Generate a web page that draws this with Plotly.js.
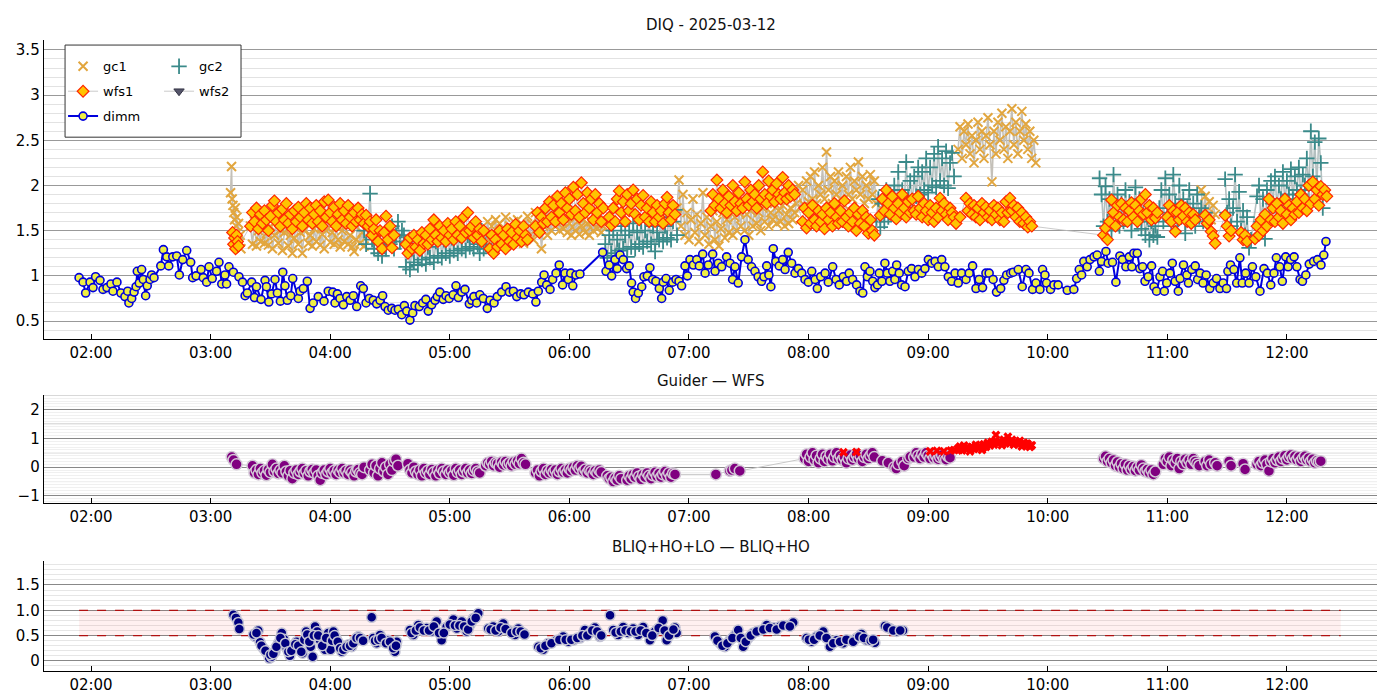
<!DOCTYPE html>
<html><head><meta charset="utf-8">
<script src="https://cdn.plot.ly/plotly-3.0.1.min.js"></script>
<style>html,body{margin:0;padding:0;background:#fff}#chart{width:1400px;height:700px}</style>
</head><body><div id="chart"></div>
<script>
const DAY = '2025-03-12';
const bottomTickVals = [0, 0.5, 1, 1.5];
const bottomTickText = ['0', '0.5', '1.0', '1.5'];
const bandLimits = [0.5, 1.0];
const bandSpanMin = [114, 747];

// DIMM (minutes after 00:00 UT, arcsec)
const dimmMin = [114,116,117.3,119.5,121,122.3,124.5,126,128,130,131,133,135,137,138.4,139,140.4,141.6,142.6,143.2,144.2,145.4,146.2,147.4,148.2,149.6,150.4,151.6,155,156.3,158,159,161,163,164.3,166,168,170,171,172.7,175.2,176.3,178,179.2,180.8,183,184.2,185.6,187.2,188,189.2,191.4,194.2,196,197.3,198.4,200.6,202,203,205.3,207.3,208,209.2,210.6,212.3,213.5,215,216.2,217.3,218.5,220.2,221.2,224,224.9,226.5,228.5,229.9,231.5,234,236.9,239,241.3,242.4,243.6,244.9,246.6,248.3,250,251.6,253.3,255.3,256.6,258,259.6,261.6,263.3,265,266.3,267.5,269.1,270.9,272.5,274.2,275.9,277.2,278.4,280,281.4,282.5,284.7,286.4,288,289.2,290.9,292.6,293.7,295,296.7,298.1,299.7,301.7,303.1,304.3,306,307.6,309.8,311,312.1,313.5,315.1,316.8,318.8,320.2,322.2,323.8,326,328.2,329.9,331.9,333.6,335.6,337.2,339.4,341.6,343.2,344.4,346.1,347.3,348.6,350.3,351.6,353.3,354.9,356.6,357.8,359.5,360.7,361.7,363.3,365.3,376.7,378.4,380,381.2,382.9,384,385.4,387,388.7,390,391.2,392,393.2,394.6,396.3,397.4,399.1,400.4,401.8,403.4,405.1,406.3,407.1,408.5,410.1,411.8,413.5,415,416.3,418,419.2,420.5,422.2,423.9,425.2,426.9,428.1,429.7,431.9,433.1,434.7,436.4,438.9,440.6,441.9,443.1,444.7,446.4,448.1,449.7,451.4,453.1,454.7,456.4,457.6,459,460.1,461.1,462.3,463.6,465.3,467,468.2,469.8,471.5,473.2,474.9,476.6,478.2,479.9,481.6,483.3,484.4,486.1,488.3,489.9,492.1,493.8,495.4,497.4,499.1,500.4,502.1,504.1,505.8,507.2,508.3,509.5,510.8,512.2,513.3,514.6,515.5,516.8,518.3,519.5,520.8,522.2,523.3,524.2,525.5,526.7,528.4,530,531.7,533.4,535.1,536.8,538.4,540.1,541.8,543.5,545.1,546.8,548.4,550.1,551.8,553.5,555.1,556.8,559,560.6,562.3,564,565.6,567.3,569,570.6,572.6,574.3,576.4,578,579.4,581.4,582.7,585.2,587.2,589.1,590.6,592.4,594.1,596.1,597.4,598.6,599.4,601.4,603.1,605.2,609.8,613.1,614.5,615.8,617,618.1,619.8,621.2,623.2,624.8,625.9,627,629.2,630.3,632.5,634.2,636.2,637.5,639.2,640.9,642.2,643.2,644.9,646.2,647.6,648.8,650.4,652.1,653.3,654.6,656.3,657.6,658.5,659.7,661.3,662.5,663.9,665.5,666.4,668.1,669.8,670.6,672.3,674,675.2,676.5,677.9,679.5,681.3,683,684.7,686.4,688,689.7,690.4,691.7,693.4,694.8,696.4,697.6,699.3,701,702.7,704.4,706.5,708.5,710.2,711.9,713.5,714.7,716.4,717.7,719.4,720.6,721.9,723.6,725,726.6,727.8,729.5,731.2,733.4,735.4,737.1,738.5,739.6];
const dimmVal = [0.98,0.93,0.81,0.93,0.87,0.99,0.95,0.85,0.87,0.91,0.83,0.93,0.81,0.77,0.83,0.70,0.75,0.82,0.88,1.05,0.92,1.07,0.96,0.78,0.89,0.96,1.01,0.98,1.11,1.29,1.21,1.11,1.21,1.22,1.01,1.18,1.28,1.15,0.98,1.00,1.07,0.98,0.93,1.10,0.97,1.05,1.15,0.91,1.01,0.91,1.10,1.04,0.99,0.93,0.78,0.81,0.93,0.76,0.88,0.74,0.95,0.88,0.71,0.80,0.96,0.81,0.72,1.04,0.89,0.73,0.78,0.97,0.75,0.83,0.86,0.94,0.64,0.70,0.77,0.72,0.83,0.82,0.70,0.80,0.75,0.68,0.77,0.73,0.78,0.66,0.89,0.86,0.70,0.75,0.73,0.69,0.73,0.78,0.66,0.62,0.64,0.62,0.63,0.57,0.67,0.61,0.51,0.59,0.67,0.66,0.70,0.74,0.61,0.68,0.73,0.77,0.82,0.74,0.78,0.75,0.79,0.89,0.76,0.82,0.85,0.69,0.73,0.77,0.70,0.79,0.75,0.64,0.73,0.70,0.77,0.82,0.88,0.82,0.83,0.77,0.80,0.79,0.82,0.80,0.71,0.83,0.93,1.01,0.90,0.85,0.96,1.03,1.12,0.90,1.03,0.96,1.03,0.89,1.01,1.02,1.26,1.05,1.12,1.00,1.18,1.08,1.23,1.18,1.08,1.11,0.92,0.82,0.75,0.81,0.88,0.99,1.00,1.09,0.96,0.94,0.86,0.75,0.93,0.97,0.84,0.93,0.96,0.94,0.89,1.11,1.00,1.18,1.12,1.18,1.11,1.24,1.03,1.12,1.24,1.05,1.14,1.10,1.21,1.14,0.96,1.10,0.92,1.21,1.40,1.18,1.10,1.05,0.99,0.94,0.99,1.11,1.01,0.88,1.30,1.16,1.11,1.18,1.07,1.26,1.14,1.03,1.08,1.03,0.96,0.93,1.05,0.96,0.86,0.99,1.03,0.93,1.10,0.96,0.90,0.99,0.94,1.03,0.96,0.90,0.83,0.81,1.10,0.99,1.05,0.94,0.87,0.90,1.03,0.94,1.14,1.03,0.94,1.05,0.96,1.12,1.03,0.90,0.88,1.05,1.08,0.99,1.07,1.03,1.08,1.18,1.14,1.16,1.10,1.18,1.10,0.99,0.94,1.03,0.92,1.03,0.96,1.03,1.11,0.86,0.96,0.87,1.03,1.03,0.96,0.82,0.86,0.95,1.01,1.03,1.04,1.07,0.88,1.07,1.03,0.85,0.92,0.85,1.07,1.01,0.92,0.85,0.90,0.90,0.84,0.85,0.97,1.07,1.01,1.16,1.10,1.18,1.21,1.23,1.05,1.16,1.27,1.14,1.15,0.93,1.22,1.18,1.10,1.21,1.10,1.25,1.25,1.08,1.10,0.94,0.99,1.11,0.88,0.83,0.99,1.05,0.83,0.92,1.03,1.14,0.94,0.83,0.97,1.12,1.01,0.92,1.07,1.11,0.96,1.03,0.92,1.01,0.86,0.92,0.97,0.86,0.92,0.86,1.05,1.12,1.07,0.92,1.20,0.92,1.03,0.92,1.10,0.99,0.83,1.08,1.03,0.90,1.03,1.20,1.10,0.94,1.21,1.10,1.18,1.21,1.10,0.96,0.94,1.01,1.13,1.16,1.18,1.12,1.23,1.38];

// Guider 1
const gc1Min = [190,190.5,190.8,191.2,191.6,192,192.4,192.8,193.2,193.6,194,194.4,194.8,195.2,
200,201,202,203,204,205,206,207,208,209,210,211,212,213,214,215,216,217,218,219,220,221,222,223,224,225,226,227,228,229,230,231,232,233,234,235,236,237,238,239,240,241,242,243,244,245,246,247,248,249,250,251,252,253,254,255,256,257,
318,319,320,321,322,323,324,325,326,327,328,329,330,331,332,333,334,335,336,337,338,339,340,341,342,343,344,345,346,347,348,349,350,351,352,353,354,355,356,357,358,359,360,361,362,363,364,365,366,367,368,369,370,371,372,373,374,375,376,377,
414,415,416,417,418,419,420,421,422,423,424,425,426,427,428,429,430,431,432,433,434,435,436,437,438,439,440,441,442,443,444,445,446,447,448,449,450,451,452,453,454,455,456,457,458,459,460,461,462,463,464,465,466,467,468,469,470,471,472,473,474,475,476,477,478,479,480,481,482,483,484,485,486,487,488,489,490,491,492,493,494,495,496,497,498,499,500,501,502,503,504,505,506,507,508,509,510,511,512,513,514,
555,556,557,558,559,560,561,562,563,564,565,566,567,568,569,570,571,572,573,574,575,576,577,578,579,580,581,582,583,584,585,586,587,588,589,590,591,592,593,594,
677,678,679,680,681,682,683,684];
const gc1Val = [1.92,2.21,1.85,1.78,1.7,1.62,1.75,1.55,1.65,1.48,1.58,1.38,1.45,1.3,
1.55,1.35,1.6,1.33,1.5,1.38,1.58,1.36,1.47,1.34,1.55,1.3,1.45,1.6,1.36,1.5,1.28,1.48,1.55,1.33,1.45,1.25,1.42,1.57,1.35,1.48,1.25,1.5,1.6,1.36,1.45,1.33,1.52,1.38,1.58,1.34,1.46,1.3,1.5,1.62,1.37,1.48,1.35,1.55,1.4,1.32,1.5,1.38,1.57,1.35,1.45,1.32,1.27,1.4,1.6,1.36,1.48,1.33,
1.45,1.6,1.38,1.55,1.42,1.62,1.4,1.58,1.35,1.5,1.65,1.42,1.55,1.38,1.6,1.45,1.62,1.4,1.56,1.36,1.52,1.66,1.45,1.58,1.4,1.7,1.48,1.62,1.3,1.55,1.68,1.45,1.6,1.5,1.72,1.55,1.65,1.5,1.6,1.52,1.62,1.48,1.58,1.45,1.65,1.5,1.6,1.46,1.55,1.62,1.48,1.58,1.45,1.6,1.5,1.65,1.52,1.58,1.48,1.55,
1.75,2.06,1.55,1.9,1.45,1.7,1.4,1.62,1.85,1.48,1.68,1.38,1.58,1.92,1.45,1.65,1.35,1.55,1.72,1.4,1.6,1.33,1.52,1.7,1.42,1.62,1.48,1.75,1.45,1.65,1.5,1.7,1.55,1.78,1.5,1.68,1.45,1.72,1.55,1.8,1.58,1.7,1.5,1.75,1.6,1.82,1.55,1.7,1.62,1.8,1.58,1.72,1.6,1.78,1.55,1.68,1.58,1.75,1.62,1.7,1.8,2.0,1.75,1.95,1.78,2.05,1.82,2.1,1.85,2.15,1.8,2.0,1.9,2.2,1.85,2.37,1.95,2.1,1.8,2.05,1.9,2.15,1.85,2.0,1.78,2.1,1.9,2.2,1.85,2.05,1.95,2.26,1.9,2.1,1.8,2.0,1.85,2.12,1.9,2.05,1.8,
2.4,2.65,2.3,2.6,2.45,2.68,2.35,2.55,2.25,2.5,2.7,2.4,2.6,2.3,2.55,2.75,2.45,2.04,2.6,2.35,2.7,2.5,2.8,2.4,2.65,2.3,2.6,2.85,2.45,2.7,2.35,2.6,2.82,2.5,2.68,2.4,2.6,2.3,2.5,2.25,
1.95,1.7,1.88,1.65,1.82,1.62,1.78,1.68];

// Guider 2
const gc2Min = [257,258,259,260,261,262,263,264,265,266,267,268,269,270,271,272,273,274,275,276,277,278,279,280,281,282,283,284,285,286,287,288,289,290,291,292,293,294,295,296,297,298,299,300,301,302,303,304,305,306,307,308,309,310,311,312,313,314,315,316,317,318,
378,379,380,381,382,383,384,385,386,387,388,389,390,391,392,393,394,395,396,397,398,399,400,401,402,403,404,405,406,407,408,409,410,411,412,413,414,
514,515,516,517,518,519,520,521,522,523,524,525,526,527,528,529,530,531,532,533,534,535,536,537,538,539,540,541,542,543,544,545,546,547,548,549,550,551,552,553,
626,627,628,629,630,631,632,633,634,635,636,637,638,639,640,641,642,643,644,645,646,647,648,649,650,651,652,653,654,655,656,657,658,659,660,661,662,663,664,665,666,667,668,669,670,671,672,673,674,675,676,677,678,679,
689,690,691,692,693,694,695,696,697,698,699,700,701,702,
705,706,707,708,709,710,711,712,713,714,715,716,717,718,719,720,721,722,723,724,725,726,727,728,729,730,731,732,733,734,735,736,737,738];
const gc2Val = [1.5,1.35,1.55,1.91,1.4,1.3,1.5,1.25,1.45,1.22,1.4,1.3,1.48,1.35,1.55,1.3,1.45,1.6,1.38,1.5,1.45,1.1,1.38,1.07,1.3,1.15,1.4,1.12,1.35,1.18,1.42,1.13,1.32,1.2,1.45,1.15,1.38,1.22,1.48,1.2,1.4,1.25,1.5,1.22,1.42,1.28,1.5,1.25,1.45,1.3,1.52,1.28,1.45,1.32,1.5,1.3,1.48,1.35,1.25,1.5,1.3,1.35,
1.35,1.2,1.45,1.25,1.5,1.22,1.4,1.28,1.55,1.3,1.45,1.21,1.5,1.32,1.58,1.3,1.48,1.35,1.6,1.32,1.5,1.38,1.62,1.35,1.55,1.27,1.48,1.4,1.65,1.38,1.55,1.42,1.68,1.4,1.6,1.73,1.45,
1.6,1.85,1.54,1.8,1.6,1.95,1.65,1.9,1.7,2.0,1.72,2.15,1.75,1.95,1.8,2.26,1.85,2.05,1.82,2.1,1.88,2.2,1.9,2.15,1.95,2.3,1.92,2.2,2.0,2.35,1.98,2.43,2.05,2.3,2.0,2.38,1.97,2.25,2.36,2.1,
2.08,1.9,1.55,1.99,1.6,1.85,1.5,2.12,1.7,1.9,1.55,1.8,1.6,1.95,1.65,1.82,1.5,1.75,1.98,1.6,1.85,1.52,1.7,1.45,1.65,1.4,1.6,1.45,1.55,1.43,1.75,1.95,1.6,2.08,1.7,1.9,1.55,2.12,1.8,1.6,2.0,1.65,1.85,1.47,1.75,1.95,1.6,1.8,1.55,1.9,1.65,1.75,1.6,1.7,
2.07,1.7,1.85,1.55,1.75,2.12,1.6,1.93,1.5,1.72,1.45,1.65,1.31,1.4,
1.88,2.0,1.6,1.85,1.41,1.95,1.7,2.05,1.8,2.1,1.78,2.0,1.85,2.15,1.82,2.05,1.9,2.18,1.85,2.1,1.95,2.2,1.9,2.12,2.0,2.3,1.95,2.6,2.1,2.48,2.0,2.52,2.25,1.75];

// WFS 1
const wfs1Min = [191,191.5,192,192.5,193,193.5,194,
200,201,202,203,204,205,206,207,208,209,210,211,212,213,214,215,216,217,218,219,220,221,222,223,224,225,226,227,228,229,230,231,232,233,234,235,236,237,238,239,240,241,242,243,244,245,246,247,248,249,250,251,252,253,254,255,256,257,
258,259,260,261,262,263,264,265,266,267,268,269,270,271,272,
278,279,280,281,282,283,284,285,286,287,288,289,290,291,292,293,294,295,296,297,298,299,300,301,302,303,304,305,306,307,308,309,310,311,312,313,314,315,316,317,
320,321,322,323,324,325,326,327,328,329,330,331,332,333,334,335,336,337,338,339,
343,344,345,346,347,348,349,350,351,352,353,354,355,356,357,358,359,360,361,362,363,364,365,366,367,368,369,370,371,372,373,374,375,376,377,
380,381,382,383,384,385,386,387,388,389,390,391,392,393,394,395,396,397,398,399,400,401,402,403,404,405,406,407,408,409,410,411,412,413,
431,432,433,434,435,436,437,438,439,440,441,442,443,444,445,446,447,448,449,450,451,452,453,454,455,456,457,458,459,460,461,462,463,464,465,466,467,468,469,470,471,472,473,
477,478,479,480,481,482,483,484,485,486,487,488,489,490,491,492,493,494,495,496,497,498,499,500,501,502,503,504,505,506,507,508,509,510,511,512,513,
516,517,518,519,520,521,522,523,524,525,526,527,528,529,530,531,532,533,534,535,536,537,538,539,540,541,542,543,544,545,546,547,548,549,550,551,552,553,554,
556,
559,560,561,562,563,564,565,566,567,568,569,570,571,572,573,574,575,576,577,578,579,580,581,582,583,584,585,586,587,588,589,590,591,592,
628,629,630,631,632,633,634,635,636,637,638,639,640,641,642,643,644,645,646,647,648,649,650,651,652,653,654,655,
660,661,662,663,664,665,666,667,668,669,670,671,672,673,674,
679,680,681,682,683,684,
689,690,691,692,
697,698,699,700,
704,705,706,707,708,709,710,711,712,713,714,715,716,717,718,719,720,721,722,723,724,725,726,727,728,729,730,731,732,733,734,735,736,737,738,739,740];
const wfs1Val = [1.48,1.35,1.42,1.3,1.45,1.38,1.33,
1.55,1.7,1.6,1.75,1.52,1.68,1.58,1.72,1.62,1.5,1.66,1.78,1.83,1.6,1.7,1.55,1.74,1.62,1.8,1.58,1.68,1.52,1.72,1.6,1.76,1.65,1.55,1.7,1.8,1.62,1.75,1.58,1.68,1.78,1.6,1.72,1.55,1.82,1.65,1.84,1.7,1.6,1.76,1.55,1.68,1.8,1.62,1.72,1.58,1.78,1.65,1.55,1.7,1.6,1.75,1.62,1.68,1.58,
1.67,1.55,1.6,1.45,1.52,1.62,1.38,1.5,1.3,1.48,1.66,1.4,1.55,1.31,1.45,
1.35,1.25,1.42,1.3,1.45,1.32,1.4,1.28,1.48,1.36,1.45,1.35,1.52,1.4,1.62,1.45,1.38,1.55,1.42,1.5,1.38,1.58,1.45,1.52,1.4,1.6,1.45,1.55,1.42,1.65,1.48,1.7,1.5,1.55,1.42,1.6,1.45,1.52,1.38,1.5,
1.3,1.45,1.25,1.4,1.32,1.5,1.35,1.45,1.3,1.52,1.38,1.48,1.35,1.57,1.42,1.5,1.38,1.55,1.45,1.4,
1.55,1.7,1.48,1.65,1.58,1.75,1.6,1.82,1.65,1.78,1.6,1.88,1.7,1.8,1.62,1.92,1.75,1.85,1.68,1.98,1.72,1.9,1.65,2.03,1.8,1.7,1.92,1.75,1.85,1.62,1.9,1.7,1.8,1.6,1.75,
1.65,1.56,1.75,1.6,1.85,1.94,1.7,1.82,1.6,1.9,1.72,1.8,1.95,1.68,1.85,1.62,1.78,1.89,1.65,1.75,1.6,1.82,1.7,1.6,1.78,1.65,1.72,1.58,1.8,1.87,1.7,1.62,1.78,1.68,
1.72,1.9,1.78,2.06,1.85,1.75,1.95,1.8,1.7,1.88,1.78,2.0,1.82,1.72,1.92,1.8,1.75,2.04,1.85,1.78,1.95,1.82,1.9,1.75,2.0,1.85,2.15,1.9,1.8,2.05,1.88,1.95,1.82,2.02,1.9,1.85,2.09,1.92,1.85,2.0,1.88,1.95,1.9,
1.6,1.75,1.53,1.7,1.58,1.78,1.62,1.55,1.72,1.6,1.68,1.52,1.75,1.62,1.7,1.55,1.8,1.65,1.58,1.72,1.6,1.83,1.65,1.55,1.7,1.6,1.75,1.5,1.68,1.58,1.72,1.55,1.65,1.47,1.62,1.5,1.45,
1.67,1.85,1.72,1.95,1.8,1.68,1.88,1.75,1.63,1.8,1.7,1.9,1.75,1.65,1.82,1.7,1.85,1.72,1.68,1.88,1.75,1.65,1.8,1.72,1.62,1.78,1.7,1.6,1.75,1.65,1.86,1.72,1.8,1.68,1.62,1.75,1.7,1.65,1.58,
1.65,
1.86,1.72,1.8,1.68,1.78,1.65,1.75,1.62,1.8,1.7,1.76,1.65,1.72,1.62,1.78,1.68,1.75,1.62,1.7,1.6,1.82,1.7,1.86,1.72,1.78,1.65,1.75,1.6,1.7,1.58,1.65,1.54,1.6,1.55,
1.45,1.53,1.4,1.6,1.84,1.7,1.55,1.78,1.65,1.8,1.62,1.75,1.6,1.72,1.81,1.65,1.78,1.6,1.72,1.85,1.68,1.9,1.7,1.78,1.62,1.75,1.64,1.7,
1.65,1.78,1.6,1.72,1.49,1.7,1.62,1.78,1.66,1.75,1.6,1.7,1.58,1.68,1.62,
1.67,1.58,1.62,1.49,1.44,1.36,
1.67,1.55,1.44,1.5,
1.48,1.4,1.45,1.38,
1.41,1.55,1.45,1.62,1.5,1.68,1.55,1.85,1.62,1.75,1.6,1.8,1.65,1.72,1.58,1.85,1.68,1.78,1.62,1.75,1.68,1.82,1.7,1.9,1.75,1.85,1.72,2.0,1.8,2.04,1.85,1.95,1.78,1.99,1.9,1.95,1.88];

// WFS 2 (no samples this night)
const wfs2Min = [];
const wfs2Val = [];

// Guider - WFS difference
const diffMin = [190.6,191.5,193,
201,202,203,204,205,206,207,208,209,210,211,212,213,214,215,216,217,218,219,220,221,222,223,224,225,226,227,228,229,230,231,232,233,234,235,236,237,238,239,240,241,242,243,244,245,246,247,248,249,250,251,252,253,254,255,256,257,
260,261,262,263,264,265,266,267,268,269,270,271,272,273,274,
279,280,281,282,283,284,285,286,287,288,289,290,291,292,293,294,295,296,297,298,299,300,301,302,303,304,305,306,307,308,309,310,311,312,313,314,315,
318,319,320,321,322,323,324,325,326,327,328,329,330,331,332,333,334,335,336,337,338,
343,344,345,346,347,348,349,350,351,352,353,354,355,356,357,358,359,360,361,362,363,364,365,366,367,368,369,370,371,372,373,374,375,376,
379,380,381,382,383,384,385,386,
389,390,391,392,393,394,395,396,397,398,399,400,401,402,403,404,405,406,407,408,409,410,411,412,413,
433.5,440.5,441.5,443,445.5,
478,479,480,481,482,483,484,485,486,487,488,489,490,491,492,493,494,495,496,497,498,499,500,501,502,503,504,505,506,507,508,509,510,511,512,513,
517,520,523,524,525,527,528,530,531,
533,534,535,536,537,538,539,540,541,542,543,544,545,546,547,548,549,550,551,
628,629,630,631,632,633,634,635,636,637,638,639,640,641,642,643,644,645,646,647,648,649,650,651,652,653,654,
658,659,660,661,662,663,664,665,666,667,668,669,670,671,672,673,674,675,676,
679,680,681,682,684,685,691,692,698,699,
705,706,707,708,709,710,711,712,713,714,715,716,717,718,719,720,721,722,723,724,725,726,727,728,729,730,731,732,733,734,735,736,737];
const diffVal = [0.35,0.25,0.1,
0.05,-0.2,-0.1,-0.25,-0.05,-0.2,-0.12,-0.28,-0.08,-0.18,0.1,-0.15,-0.05,-0.22,-0.1,-0.2,0.05,-0.15,-0.3,-0.12,-0.4,-0.2,-0.1,-0.25,-0.15,-0.05,-0.22,-0.12,-0.3,-0.15,-0.08,-0.2,-0.1,-0.3,-0.45,-0.2,-0.1,-0.25,-0.15,-0.05,-0.2,-0.12,-0.25,-0.1,-0.18,-0.05,-0.2,-0.12,-0.25,-0.1,-0.18,-0.3,-0.15,-0.08,-0.2,-0.25,0.0,
-0.1,0.1,-0.2,0.05,-0.3,-0.05,0.15,-0.15,0.0,-0.25,0.1,-0.1,0.2,0.28,0.05,
0.12,-0.1,-0.2,0.0,-0.15,-0.25,-0.1,-0.3,-0.05,-0.2,-0.12,-0.25,-0.08,-0.18,-0.3,-0.1,-0.22,-0.05,-0.15,-0.25,-0.1,-0.2,-0.12,-0.28,-0.05,-0.18,-0.1,-0.25,-0.15,-0.05,-0.2,-0.1,-0.22,-0.12,-0.05,-0.15,-0.2,
0.05,0.15,0.1,0.2,0.05,0.15,0.12,0.0,0.18,0.08,0.2,0.1,0.15,0.05,0.18,0.1,0.22,0.12,0.3,0.15,0.1,
-0.2,-0.1,-0.3,-0.15,-0.05,-0.25,-0.12,-0.2,-0.08,-0.18,-0.1,-0.25,-0.15,-0.05,-0.18,-0.1,-0.2,-0.05,-0.12,0.0,-0.1,0.05,-0.05,0.03,-0.15,-0.08,-0.2,-0.1,-0.15,-0.25,-0.12,-0.2,-0.1,-0.17,
-0.3,-0.4,-0.35,-0.5,-0.38,-0.45,-0.3,-0.4,
-0.45,-0.3,-0.4,-0.25,-0.35,-0.2,-0.32,-0.42,-0.25,-0.35,-0.2,-0.3,-0.4,-0.28,-0.18,-0.32,-0.22,-0.35,-0.25,-0.15,-0.3,-0.2,-0.35,-0.22,-0.25,
-0.25,-0.13,-0.1,-0.05,-0.13,
0.3,0.45,0.2,0.35,0.5,0.25,0.4,0.15,0.3,0.45,0.2,0.38,0.28,0.45,0.22,0.35,0.5,0.3,0.4,0.25,0.35,0.15,0.3,0.42,0.25,0.35,0.45,0.3,0.4,0.2,0.35,0.45,0.3,0.4,0.5,0.35,
0.22,0.15,0.0,-0.05,0.1,0.2,0.05,0.3,0.36,
0.35,0.5,0.4,0.3,0.45,0.35,0.5,0.4,0.3,0.45,0.32,0.4,0.28,0.35,0.42,0.3,0.26,0.38,0.33,
0.3,0.38,0.2,0.3,0.15,0.25,0.05,0.18,0.0,0.12,-0.05,0.1,-0.1,0.05,-0.08,0.02,-0.12,0.0,-0.1,0.08,-0.05,-0.15,-0.08,-0.2,-0.1,-0.25,-0.15,
0.1,0.3,0.2,0.35,0.05,0.25,0.15,0.3,-0.05,0.2,0.1,0.28,0.15,0.25,0.1,0.3,0.2,0.12,0.05,
0.2,0.05,0.25,0.1,0.15,0.05,0.2,0.05,0.12,-0.08,
0.1,0.2,0.05,0.15,0.25,0.1,-0.13,0.2,0.3,0.15,0.25,0.35,0.2,0.3,0.4,0.25,0.35,0.42,0.3,0.38,0.25,0.35,0.2,0.3,0.38,0.25,0.32,0.2,0.28,0.15,0.22,0.18,0.21];

// Flagged Guider - WFS samples
const flagMin = [497.5,504,541,544.4,547.9,551.4,553,555,555.5,556,556.5,557,557.5,558,559,559.5,560,561,561.5,562,563,563.5,564,565,565.5,566,567,567.5,568,569,569.5,570,571,571.5,572,573,573.5,574,575,575.5,576,577,577.5,578,579,579.5,580,581,581.5,582,583,583.5,584,585,585.5,586,587,587.5,588,589,589.5,590,591,591.5,592];
const flagVal = [0.52,0.53,0.55,0.57,0.55,0.58,0.6,0.65,0.6,0.72,0.68,0.58,0.66,0.75,0.62,0.7,0.68,0.55,0.62,0.7,0.63,0.7,0.78,0.66,0.74,0.72,0.6,0.68,0.8,0.7,0.78,0.85,0.75,0.82,0.88,0.78,0.9,1.12,0.82,0.86,0.9,0.76,0.84,0.95,0.85,0.92,1.06,0.82,0.88,0.95,0.78,0.84,0.88,0.8,0.86,0.92,0.72,0.78,0.85,0.75,0.82,0.8,0.7,0.74,0.76];

// BLIQ+HO+LO - BLIQ+HO
const bliqMin = [191.4,192.7,193.9,194.4,
202.3,203.9,204.8,206.4,208.4,209.4,210.6,212.3,214,215.7,216.8,218.2,219.8,221.5,223.2,224.8,226.2,227.9,229,230.2,231.2,232.4,233.5,234.9,237.4,239,240.2,241.6,242.9,244.6,245.8,247.4,249.1,250.8,252.4,254.1,255.8,
201.5,203,205.5,207.5,210,211.5,213,215,217.5,219,220.5,222.5,224,225.5,227,228.5,229.5,231.8,234,236,238,241,242.2,243.8,245,246.6,248.2,250,251.6,253.2,255,256.5,
260.8,261.6,263.3,265,266.6,269.1,270.8,272.5,273.4,262.5,264.2,265.8,268,270,271.6,273,
280,281.7,284.2,285.9,288.4,290.9,293.4,295.9,298.4,301.8,303.5,306,308.5,310.1,311.8,314.3,
280.8,283,285,287,289.6,292,294.6,297,300,302.6,304.8,307.2,309.2,311,313,
319.3,321.8,324.3,326.8,329.3,332.7,334.4,336.9,320.5,323,325.5,328,331,333.5,335.6,337.5,
344.4,346.9,349.4,353.6,356.9,359.5,362,365.3,367.8,370.3,372.8,375.3,345.6,348,351,355,358.2,361,364,366.5,369,371.5,374,376,
380.4,382,384.5,387,389.5,392,394.5,397,400.4,402.9,406.8,408.8,411.3,413,413.8,383.2,385.8,388.2,390.8,393.2,395.8,398.6,401.6,404.8,407.8,410,412.2,
433,435.6,438.1,440.6,443.1,444.7,447.2,449.7,452.2,455.6,459,462.3,465.6,469,472.3,434.3,436.8,439.3,441.8,446,448.5,451,454,457.3,460.6,464,467.3,470.6,
479,481.5,484,487.4,490.7,494.1,497.4,500.7,504.1,506.6,509.1,513.3,480.2,482.8,485.6,489,492.4,495.8,499,502.4,505.4,507.8,511.2,512.4,
518.3,520.8,524.2,527.4,519.5,522.5,526];
const bliqVal = [0.91,0.85,0.76,0.63,
0.48,0.60,0.37,0.25,0.15,0.05,0.08,0.18,0.35,0.55,0.43,0.25,0.1,0.28,0.38,0.22,0.15,0.58,0.48,0.28,0.08,0.68,0.58,0.41,0.22,0.55,0.22,0.58,0.45,0.32,0.18,0.25,0.32,0.28,0.41,0.48,0.43,
0.52,0.55,0.3,0.2,0.12,0.14,0.28,0.45,0.35,0.18,0.2,0.33,0.3,0.18,0.42,0.52,0.38,0.5,0.5,0.3,0.45,0.4,0.5,0.38,0.25,0.22,0.28,0.3,0.35,0.45,0.45,0.4,
0.86,0.45,0.35,0.51,0.38,0.41,0.32,0.18,0.38,0.4,0.42,0.45,0.35,0.38,0.25,0.3,
0.61,0.51,0.71,0.61,0.65,0.58,0.78,0.41,0.67,0.82,0.64,0.78,0.58,0.71,0.84,0.94,
0.55,0.6,0.66,0.6,0.6,0.68,0.55,0.55,0.72,0.7,0.7,0.68,0.62,0.78,0.85,
0.64,0.68,0.58,0.74,0.61,0.51,0.64,0.55,0.62,0.6,0.66,0.63,0.55,0.58,0.58,0.52,
0.28,0.22,0.35,0.41,0.48,0.38,0.41,0.45,0.61,0.55,0.66,0.48,0.25,0.3,0.35,0.42,0.42,0.42,0.45,0.5,0.5,0.6,0.58,0.5,
0.9,0.61,0.51,0.67,0.55,0.64,0.51,0.67,0.41,0.58,0.8,0.41,0.58,0.66,0.55,0.56,0.58,0.6,0.58,0.58,0.6,0.55,0.5,0.65,0.6,0.5,0.62,
0.48,0.35,0.28,0.41,0.51,0.61,0.28,0.45,0.55,0.6,0.71,0.66,0.68,0.7,0.76,0.4,0.3,0.35,0.45,0.45,0.38,0.5,0.58,0.62,0.65,0.62,0.7,0.68,
0.45,0.38,0.48,0.58,0.28,0.41,0.35,0.41,0.45,0.53,0.41,0.36,0.42,0.42,0.5,0.45,0.35,0.38,0.42,0.38,0.48,0.45,0.4,0.42,
0.69,0.64,0.58,0.6,0.66,0.6,0.6];

function t(m){
  const s = Math.round(m*60);
  const p = n => String(n).padStart(2,'0');
  return `${DAY} ${p(Math.floor(s/3600))}:${p(Math.floor((s%3600)/60))}:${p(s%60)}`;
}
const T = a => a.map(t);
function breakGaps(mins, vals, maxGap){
  const xs = [], ys = [];
  for (let i = 0; i < mins.length; i++){
    if (i > 0 && mins[i] - mins[i-1] > maxGap){ xs.push(t((mins[i]+mins[i-1])/2)); ys.push(null); }
    xs.push(t(mins[i])); ys.push(vals[i]);
  }
  return {x: xs, y: ys};
}

const FONT = 'DejaVu Sans, Verdana, sans-serif';
const GOLD = '#E2A63E', TEAL = '#3A8A8A';
const g1 = breakGaps(gc1Min, gc1Val, 3), g2 = breakGaps(gc2Min, gc2Val, 3);

const traces = [
  {x:g1.x, y:g1.y, mode:'lines', line:{color:'#c4c0b8', width:1.6}, showlegend:false, hoverinfo:'skip', xaxis:'x', yaxis:'y', connectgaps:false},
  {x:g2.x, y:g2.y, mode:'lines', line:{color:'#b4c0c0', width:1.6}, showlegend:false, hoverinfo:'skip', xaxis:'x', yaxis:'y', connectgaps:false},
  {name:'gc1', x:T(gc1Min), y:gc1Val, mode:'markers', marker:{symbol:'x-thin', size:9, color:GOLD, line:{color:GOLD, width:2}}, xaxis:'x', yaxis:'y', legend:'legend', legendgroup:'a'},
  {name:'gc2', x:T(gc2Min), y:gc2Val, mode:'markers', marker:{symbol:'cross-thin', size:11, color:TEAL, line:{color:TEAL, width:1.8}}, xaxis:'x', yaxis:'y', legend:'legend2', legendgroup:'d'},
  {name:'wfs1', x:T(wfs1Min), y:wfs1Val, mode:'lines+markers', line:{color:'#bdbdbd', width:0.8}, marker:{symbol:'diamond', size:9, color:'#FFC400', line:{color:'#FF2800', width:1.2}}, xaxis:'x', yaxis:'y', legend:'legend', legendgroup:'b'},
  {name:'wfs2', x:wfs2Min.length ? T(wfs2Min) : [null], y:wfs2Val.length ? wfs2Val : [null], mode:'lines+markers', line:{color:'#bdbdbd', width:0.8}, marker:{symbol:'triangle-down', size:9, color:'#55556a', line:{color:'#333344', width:1}}, xaxis:'x', yaxis:'y', legend:'legend2', legendgroup:'e'},
  {name:'dimm', x:T(dimmMin), y:dimmVal, mode:'lines+markers', line:{color:'#0000DD', width:2}, marker:{symbol:'circle', size:8, color:'#EEEE44', line:{color:'#0000DD', width:1.6}}, xaxis:'x', yaxis:'y', legend:'legend', legendgroup:'c'},
  {x:T(diffMin), y:diffVal, mode:'lines+markers', line:{color:'#c8c8c8', width:1}, marker:{symbol:'circle', size:11, color:'#800080', line:{color:'#d3c8d6', width:1.5}}, xaxis:'x2', yaxis:'y2', showlegend:false},
  {x:T(flagMin), y:flagVal, mode:'markers', marker:{symbol:'x', size:8, color:'#FF0000', line:{width:0}}, xaxis:'x2', yaxis:'y2', showlegend:false},
  {x:T(bliqMin), y:bliqVal, mode:'markers', marker:{symbol:'circle', size:10, color:'#00007F', line:{color:'#c4c4d4', width:1.5}}, xaxis:'x3', yaxis:'y3', showlegend:false}
];

const xRange = [t(96.4), t(765.2)];
const xBase = {type:'date', range:xRange, tickformat:'%H:%M', dtick:3600000, tick0:DAY+' 00:00', ticks:'inside', ticklen:5, tickcolor:'#000',
  showline:true, linecolor:'#000', linewidth:1.3, showgrid:false, zeroline:false, tickfont:{size:15, color:'#000'}};
const yBase = {showline:true, linecolor:'#000', linewidth:1.3, zeroline:false, ticks:'', tickfont:{size:15, color:'#000'}};

const shapes = [
  {type:'rect', xref:'x3', yref:'y3', x0:t(bandSpanMin[0]), x1:t(bandSpanMin[1]), y0:bandLimits[0], y1:bandLimits[1], fillcolor:'rgba(255,0,0,0.06)', line:{width:0}, layer:'between'},
  {type:'line', xref:'x3', yref:'y3', x0:t(bandSpanMin[0]), x1:t(bandSpanMin[1]), y0:bandLimits[0], y1:bandLimits[0], line:{color:'#B01010', width:1.3, dash:'dash'}, layer:'between'},
  {type:'line', xref:'x3', yref:'y3', x0:t(bandSpanMin[0]), x1:t(bandSpanMin[1]), y0:bandLimits[1], y1:bandLimits[1], line:{color:'#B01010', width:1.3, dash:'dash'}, layer:'between'},
  {type:'rect', xref:'paper', yref:'paper', x0:0.0158, x1:0.1478, y0:0.846, y1:0.992, fillcolor:'#ffffff', line:{color:'#333', width:1}, layer:'above'}
];
[-0.5, 0.5, 1.5, 2.5].forEach(v => shapes.push({type:'line', xref:'paper', yref:'y2', x0:0, x1:1, y0:v, y1:v, line:{color:'#bbbbbb', width:1}, layer:'between'}));

const layout = {
  width:1400, height:700, margin:{l:44, r:23, t:40, b:29},
  paper_bgcolor:'#fff', plot_bgcolor:'#fff',
  font:{family:FONT, size:13, color:'#000'},
  showlegend:true,
  legend:{x:0.0143, y:0.982, xanchor:'left', yanchor:'top', bgcolor:'rgba(0,0,0,0)', borderwidth:0, font:{size:13}, traceorder:'grouped', tracegroupgap:5},
  legend2:{x:0.0863, y:0.982, xanchor:'left', yanchor:'top', bgcolor:'rgba(0,0,0,0)', borderwidth:0, font:{size:13}, traceorder:'grouped', tracegroupgap:5},
  xaxis:Object.assign({}, xBase, {anchor:'y'}),
  xaxis2:Object.assign({}, xBase, {anchor:'y2', matches:'x'}),
  xaxis3:Object.assign({}, xBase, {anchor:'y3', matches:'x'}),
  yaxis:Object.assign({}, yBase, {domain:[0.526,1], range:[0.3,3.61], dtick:0.5, tick0:0, gridcolor:'#999999',
    minor:{dtick:0.1, tick0:0, showgrid:true, gridcolor:'#e2e2e2'}}),
  yaxis2:Object.assign({}, yBase, {domain:[0.266,0.437], range:[-1.25,2.5], dtick:1, tick0:0, gridcolor:'#888888',
    minor:{dtick:0.1, tick0:0, showgrid:true, gridcolor:'#f0f0f0'}}),
  yaxis3:Object.assign({}, yBase, {domain:[0,0.174], range:[-0.2,1.97], tickmode:'array', tickvals:bottomTickVals, ticktext:bottomTickText, gridcolor:'#888888',
    minor:{tickmode:'linear', dtick:0.1, tick0:0, showgrid:true, gridcolor:'#e6e6e6'}}),
  shapes:shapes,
  annotations:[
    {text:'DIQ - 2025-03-12', xref:'paper', yref:'paper', x:0.5, y:1.0238, xanchor:'center', yanchor:'middle', showarrow:false, font:{size:15, color:'#111'}},
    {text:'Guider — WFS', xref:'paper', yref:'paper', x:0.5, y:0.4596, xanchor:'center', yanchor:'middle', showarrow:false, font:{size:15, color:'#111'}},
    {text:'BLIQ+HO+LO — BLIQ+HO', xref:'paper', yref:'paper', x:0.5, y:0.1965, xanchor:'center', yanchor:'middle', showarrow:false, font:{size:15, color:'#111'}}
  ]
};

Plotly.newPlot('chart', traces, layout, {displayModeBar:false, staticPlot:true});
</script>
</body></html>
